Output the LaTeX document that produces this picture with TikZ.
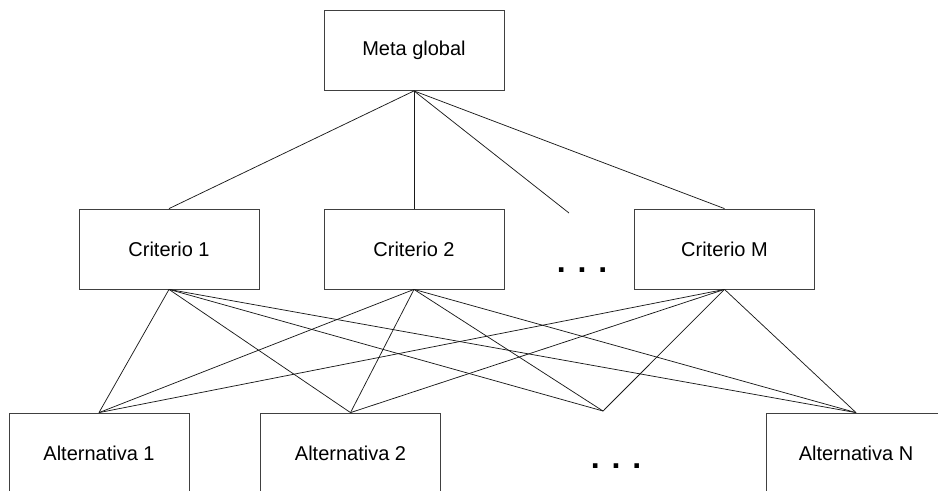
\documentclass[tikz,border=0pt]{standalone}
\usepackage{fontspec}
\setmainfont{Liberation Sans}
\usetikzlibrary{positioning}

\begin{document}
\begin{tikzpicture}[x=0.75pt, y=-0.75pt,
  every node/.style={font=\fontsize{15}{18}\selectfont},
  box/.style={draw=black!75, line width=0.6pt, minimum width=135pt, minimum height=60pt, inner sep=0pt},
  link/.style={black!90, line width=0.55pt},
  dotrow/.style={font=\fontsize{24}{24}\selectfont\bfseries, inner sep=0pt, anchor=base}]
  \useasboundingbox (0,0) rectangle (938,490);
  \clip (0,0) rectangle (938,490);

  % Goal
  \node[box] (meta) at (414,50.5) {Meta global};

  % Criteria
  \node[box] (crit1) at (169,249) {Criterio 1};
  \node[box] (crit2) at (414,249) {Criterio 2};
  \node[box] (critM) at (724.5,249) {Criterio M};
  \node[dotrow] (cdots) at (582,272) {. . .};
  \coordinate (cgap) at (569,213);

  % Alternatives
  \node[box] (alt1) at (99,453) {Alternativa 1};
  \node[box] (alt2) at (350.5,453) {Alternativa 2};
  \node[box] (altN) at (856,453) {Alternativa N};
  \node[dotrow] (adots) at (616,468) {. . .};
  \coordinate (agap) at (603,411);

  % Goal to criteria
  \draw[link] (meta.south) -- (crit1.north);
  \draw[link] (meta.south) -- (crit2.north);
  \draw[link] (meta.south) -- (cgap);
  \draw[link] (meta.south) -- (critM.north);

  % Criteria to alternatives
  \foreach \c in {crit1,crit2,critM}{
    \draw[link] (\c.south) -- (alt1.north);
    \draw[link] (\c.south) -- (alt2.north);
    \draw[link] (\c.south) -- (agap);
    \draw[link] (\c.south) -- (altN.north);
  }
\end{tikzpicture}
\end{document}
